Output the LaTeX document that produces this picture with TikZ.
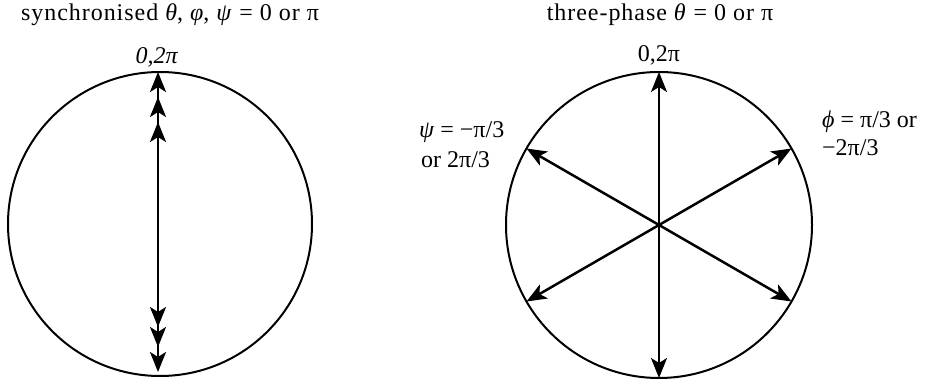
\documentclass[tikz,border=0pt]{standalone}
\usepackage{fontspec}
\setmainfont{Liberation Serif}
\usetikzlibrary{arrows.meta}
\begin{document}
\begin{tikzpicture}[x=1pt,y=-1pt,
  hd/.tip={Stealth[length=20pt,width=16pt,inset=5pt]},
  ring/.style={line width=2pt},
  vec/.style={line width=2.5pt},
  lbl/.style={font=\fontsize{24}{26}\selectfont, inner sep=0pt},
  ttl/.style={font=\fontsize{24}{26}\selectfont\addfontfeatures{LetterSpace=4}, inner sep=0pt},
  dbl/.style={vec,{hd}-{hd}},
  tri/.style={vec,{hd[sep=5pt]hd[sep=5pt]hd}-{hd[sep=5pt]hd[sep=5pt]hd}}]
\useasboundingbox (0,0) rectangle (929,379);
% left circle
\coordinate (L) at (160,224);
\draw[ring] (L) circle[radius=152];
\coordinate (Ltop) at (158,72);
\coordinate (Lbot) at (158,377);
\draw[tri] (Lbot) -- (Ltop);
% right circle
\coordinate (R) at (659,225);
\draw[ring] (R) circle[radius=153];
\path (R) ++(0,-153) coordinate (Rtop);
\path (R) ++(0,153) coordinate (Rbot);
\path (R) ++(30:153) coordinate (R30);
\path (R) ++(150:153) coordinate (R150);
\path (R) ++(210:153) coordinate (R210);
\path (R) ++(330:153) coordinate (R330);
\draw[dbl] (Rbot) -- (Rtop);
\draw[dbl] (R150) -- (R330);
\draw[dbl] (R30) -- (R210);
% labels
\node[ttl,anchor=base] (t1) at (170,21) {synchronised \textit{θ}, \textit{φ}, \textit{ψ} = 0 or π};
\node[ttl,anchor=base] (t2) at (660,21) {three-phase \textit{θ} = 0 or π};
\node[lbl,anchor=base] (z1) at (157,64) {\textit{0,2π}};
\node[lbl,anchor=base] (z2) at (659,62) {0,2π};
\node[lbl,anchor=base west] (p1) at (419,138) {\textit{ψ} = −π/3};
\node[lbl,anchor=base west] (p2) at (421,168) {or 2π/3};
\node[lbl,anchor=base west] (f1) at (822,128) {\textit{ϕ} = π/3 or};
\node[lbl,anchor=base west] (f2) at (822,156) {−2π/3};
\end{tikzpicture}
\end{document}
